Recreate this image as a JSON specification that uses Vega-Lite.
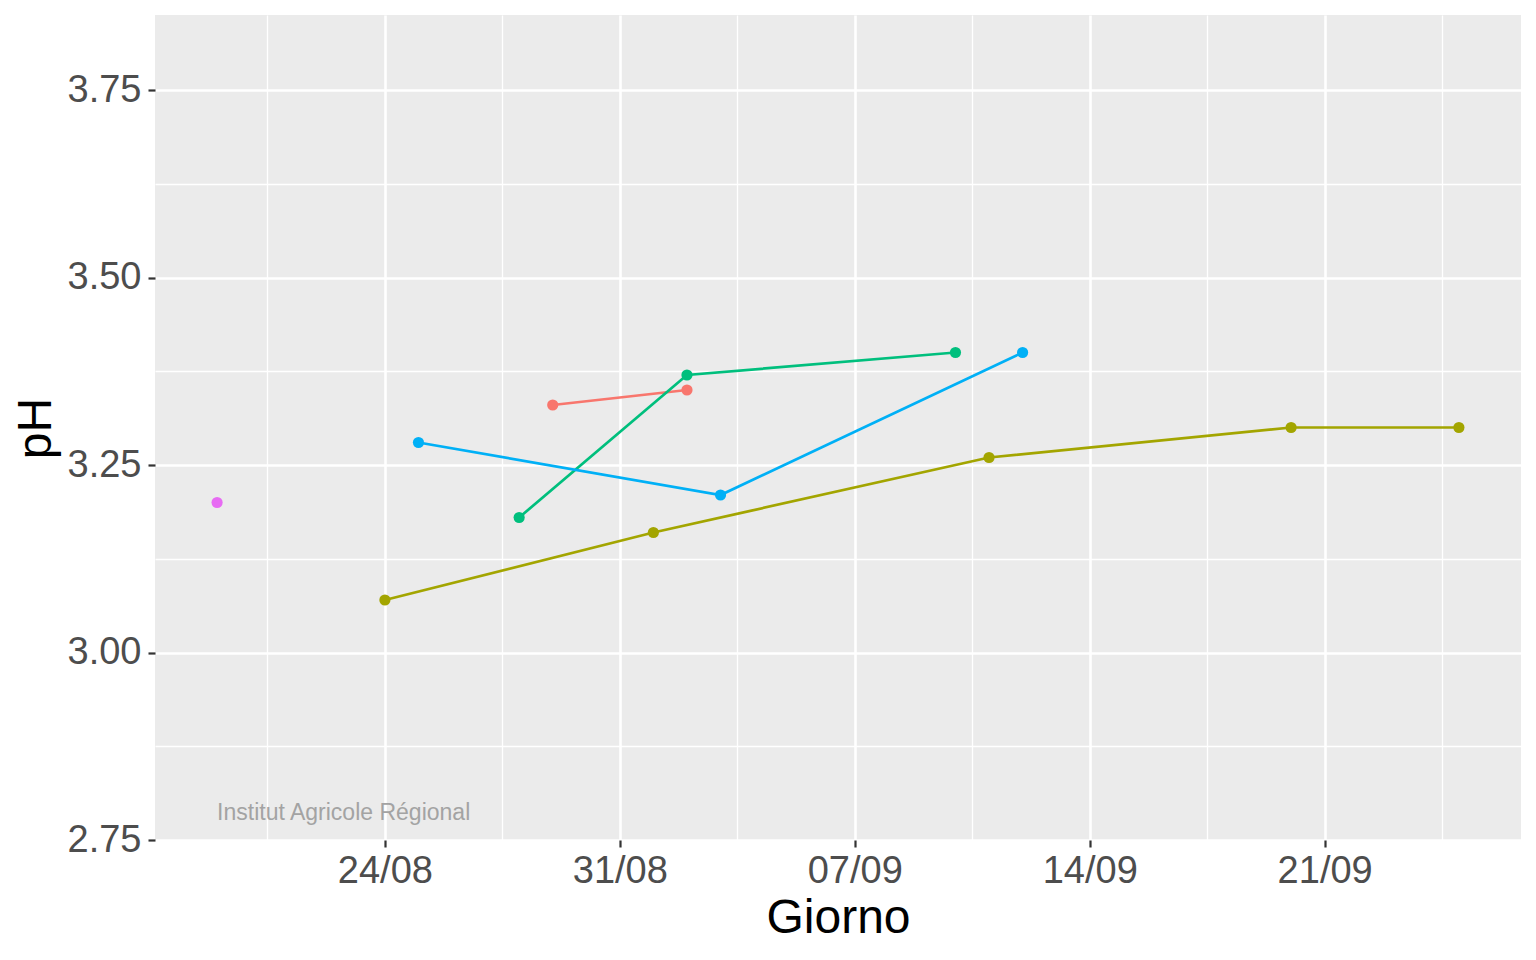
{
  "$schema": "https://vega.github.io/schema/vega-lite/v6.json",
  "width": 1366,
  "height": 825,
  "autosize": {"type": "none"},
  "padding": {"left": 155, "top": 15, "right": 15, "bottom": 120},
  "background": "white",
  "config": {
    "view": {"fill": "#EBEBEB", "stroke": null},
    "font": "Liberation Sans"
  },
  "layer": [
    {
      "data": {
        "values": [
          {"serie": "1", "giorno": "2021-08-29", "pH": 3.33},
          {"serie": "1", "giorno": "2021-09-02", "pH": 3.35},
          {"serie": "2", "giorno": "2021-08-24", "pH": 3.07},
          {"serie": "2", "giorno": "2021-09-01", "pH": 3.16},
          {"serie": "2", "giorno": "2021-09-11", "pH": 3.26},
          {"serie": "2", "giorno": "2021-09-20", "pH": 3.30},
          {"serie": "2", "giorno": "2021-09-25", "pH": 3.30},
          {"serie": "3", "giorno": "2021-08-28", "pH": 3.18},
          {"serie": "3", "giorno": "2021-09-02", "pH": 3.37},
          {"serie": "3", "giorno": "2021-09-10", "pH": 3.40},
          {"serie": "4", "giorno": "2021-08-25", "pH": 3.28},
          {"serie": "4", "giorno": "2021-09-03", "pH": 3.21},
          {"serie": "4", "giorno": "2021-09-12", "pH": 3.40},
          {"serie": "5", "giorno": "2021-08-19", "pH": 3.20}
        ]
      },
      "encoding": {
        "x": {
          "field": "giorno",
          "type": "temporal",
          "scale": {
            "type": "utc",
            "domain": [
              {"year": 2021, "month": 8, "date": 17, "hours": 3, "minutes": 36, "utc": true},
              {"year": 2021, "month": 9, "date": 26, "hours": 20, "minutes": 24, "utc": true}
            ]
          },
          "axis": {
            "title": "Giorno",
            "values": [
              {"year": 2021, "month": 8, "date": 20, "hours": 12, "utc": true},
              {"year": 2021, "month": 8, "date": 24, "utc": true},
              {"year": 2021, "month": 8, "date": 27, "hours": 12, "utc": true},
              {"year": 2021, "month": 8, "date": 31, "utc": true},
              {"year": 2021, "month": 9, "date": 3, "hours": 12, "utc": true},
              {"year": 2021, "month": 9, "date": 7, "utc": true},
              {"year": 2021, "month": 9, "date": 10, "hours": 12, "utc": true},
              {"year": 2021, "month": 9, "date": 14, "utc": true},
              {"year": 2021, "month": 9, "date": 17, "hours": 12, "utc": true},
              {"year": 2021, "month": 9, "date": 21, "utc": true},
              {"year": 2021, "month": 9, "date": 24, "hours": 12, "utc": true}
            ],
            "labelExpr": "utchours(datum.value) == 12 ? '' : utcFormat(datum.value, '%d/%m')",
            "domain": false,
            "grid": true,
            "gridColor": "white",
            "gridOpacity": 1,
            "gridWidth": {"condition": {"test": "utchours(datum.value) == 12", "value": 1.3}, "value": 2.6},
            "ticks": true,
            "tickSize": 7,
            "tickWidth": 2.2,
            "tickColor": "#333333",
            "tickOpacity": {"condition": {"test": "utchours(datum.value) == 12", "value": 0}, "value": 1},
            "labelFont": "Liberation Sans",
            "labelFontSize": 38,
            "labelColor": "#4D4D4D",
            "labelBaseline": "alphabetic",
            "labelPadding": 35,
            "labelFlush": false,
            "labelOverlap": false,
            "titleFont": "Liberation Sans",
            "titleFontSize": 48,
            "titleFontWeight": "normal",
            "titleColor": "black",
            "titleBaseline": "alphabetic",
            "titleAnchor": "middle",
            "titleX": 683,
            "titleY": 92
          }
        },
        "y": {
          "field": "pH",
          "type": "quantitative",
          "scale": {"domain": [2.75, 3.85], "nice": false, "zero": false},
          "axis": {
            "title": "pH",
            "values": [2.75, 2.875, 3.0, 3.125, 3.25, 3.375, 3.5, 3.625, 3.75],
            "labelExpr": "round(datum.value*8) % 2 == 1 ? '' : format(datum.value, '.2f')",
            "domain": false,
            "grid": true,
            "gridColor": "white",
            "gridOpacity": 1,
            "gridWidth": {"condition": {"test": "round(datum.value*8) % 2 == 1", "value": 1.3}, "value": 2.6},
            "tickSize": 7,
            "tickWidth": 2.2,
            "tickColor": "#333333",
            "tickOpacity": {"condition": {"test": "round(datum.value*8) % 2 == 1", "value": 0}, "value": 1},
            "labelFont": "Liberation Sans",
            "labelFontSize": 38,
            "labelColor": "#4D4D4D",
            "labelBaseline": "middle",
            "labelPadding": 7,
            "labelFlush": false,
            "labelOverlap": false,
            "titleFont": "Liberation Sans",
            "titleFontSize": 48,
            "titleFontWeight": "normal",
            "titleColor": "black",
            "titleAngle": 270,
            "titleBaseline": "alphabetic",
            "titleAlign": "center",
            "titleX": -105,
            "titleY": 413
          }
        },
        "color": {
          "field": "serie",
          "type": "nominal",
          "scale": {
            "domain": ["1", "2", "3", "4", "5"],
            "range": ["#F8766D", "#A3A500", "#00BF7D", "#00B0F6", "#E76BF3"]
          },
          "legend": null
        }
      },
      "layer": [
        {"mark": {"type": "line", "strokeWidth": 2.7}},
        {"mark": {"type": "circle", "size": 125, "opacity": 1}}
      ]
    },
    {
      "data": {
        "values": [
          {"giorno": "2021-08-19", "pH": 2.777, "testo": "Institut Agricole Régional"}
        ]
      },
      "mark": {
        "type": "text",
        "align": "left",
        "baseline": "alphabetic",
        "font": "Liberation Sans",
        "fontSize": 23,
        "color": "#A3A3A3"
      },
      "encoding": {
        "x": {"field": "giorno", "type": "temporal"},
        "y": {"field": "pH", "type": "quantitative"},
        "text": {"field": "testo"}
      }
    }
  ]
}
